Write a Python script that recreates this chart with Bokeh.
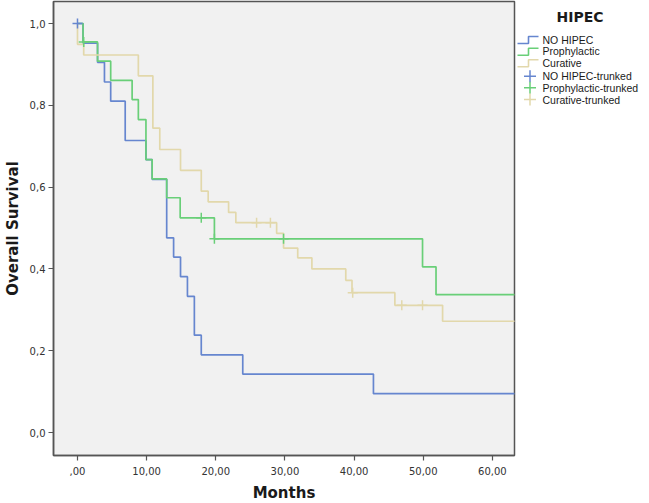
from bokeh.plotting import figure
from bokeh.models import Range1d, FixedTicker
from bokeh.layouts import row
from bokeh.embed import file_html
from bokeh.resources import INLINE
from bokeh.core.properties import value

# ---------------- data ----------------
nohipec_t = [0, 0.8, 2.9, 3.9, 4.8, 6.9, 9.9, 10.8, 12.9, 13.9, 14.9, 15.9, 16.9, 17.9, 23.9, 42.8, 64]
nohipec_s = [1.0, 0.952, 0.905, 0.857, 0.810, 0.714, 0.667, 0.619, 0.476, 0.429, 0.381, 0.333, 0.238, 0.190, 0.143, 0.095, 0.095]
nohipec_cens_t = [0.0]
nohipec_cens_s = [1.0]

proph_t = [0, 0.8, 2.9, 4.8, 7.9, 8.8, 9.9, 10.8, 12.9, 14.85, 19.8, 49.9, 51.85, 64]
proph_s = [1.0, 0.955, 0.908, 0.861, 0.814, 0.765, 0.667, 0.620, 0.574, 0.525, 0.4735, 0.405, 0.337, 0.337]
proph_cens_t = [0.9, 17.9, 19.8, 29.8]
proph_cens_s = [0.955, 0.525, 0.4735, 0.4735]

cur_t = [0, 0, 0.9, 8.8, 10.9, 11.9, 14.9, 17.9, 18.9, 21.85, 22.9, 28.8, 29.8, 31.85, 33.9, 38.8, 39.7, 45.9, 52.8, 64]
cur_s = [1.0, 0.949, 0.923, 0.872, 0.744, 0.692, 0.641, 0.590, 0.564, 0.538, 0.513, 0.487, 0.451, 0.427, 0.400, 0.372, 0.342, 0.311, 0.272, 0.272]
cur_cens_t = [25.9, 27.9, 39.8, 46.9, 49.9]
cur_cens_s = [0.513, 0.513, 0.342, 0.311, 0.311]

x_ticks = [0, 10, 20, 30, 40, 50, 60]
x_tick_labels = [",00", "10,00", "20,00", "30,00", "40,00", "50,00", "60,00"]
y_ticks = [0.0, 0.2, 0.4, 0.6, 0.8, 1.0]
y_tick_labels = ["0,0", "0,2", "0,4", "0,6", "0,8", "1,0"]

legend_title = "HIPEC"
legend_labels = ["NO HIPEC", "Prophylactic", "Curative",
                 "NO HIPEC-trunked", "Prophylactic-trunked", "Curative-trunked"]

BLUE = "#6686cf"
GREEN = "#69cf78"
TAN = "#e2d8ab"
FRAME = "#555555"

FRAME_H = 454
TOP = 1

# ---------------- main plot ----------------
p = figure(frame_width=461, frame_height=FRAME_H, output_backend="svg", toolbar_location=None,
           x_range=Range1d(-3.47, 63.2), y_range=Range1d(-0.0562, 1.0538),
           min_border_left=47, min_border_top=TOP, min_border_right=2, min_border_bottom=0)
p.background_fill_color = "#f1f1f1"
p.border_fill_color = "white"
p.outline_line_color = FRAME
p.outline_line_width = 1.5
p.grid.visible = False

for t, s, c in [(nohipec_t, nohipec_s, BLUE), (proph_t, proph_s, GREEN), (cur_t, cur_s, TAN)]:
    p.step(t, s, mode="after", line_color=c, line_width=1.7)

for t, s, c in [(nohipec_cens_t, nohipec_cens_s, BLUE), (proph_cens_t, proph_cens_s, GREEN), (cur_cens_t, cur_cens_s, TAN)]:
    p.scatter(t, s, marker="cross", size=10, line_color=c, line_width=1.5)

p.xaxis.ticker = FixedTicker(ticks=x_ticks)
p.xaxis.major_label_overrides = dict(zip(x_ticks, x_tick_labels))
p.yaxis.ticker = FixedTicker(ticks=y_ticks)
p.yaxis.major_label_overrides = dict(zip(y_ticks, y_tick_labels))

for ax in (p.xaxis, p.yaxis):
    ax.minor_tick_line_color = None
    ax.major_tick_in = 0
    ax.major_tick_out = 5
    ax.major_tick_line_color = FRAME
    ax.major_tick_line_width = 1.2
    ax.axis_line_color = FRAME
    ax.axis_line_width = 1.5
    ax.major_label_text_font = "DejaVu Sans"
    ax.major_label_text_font_size = "10px"
    ax.major_label_text_color = "#333333"
    ax.axis_label_text_font = "DejaVu Sans"
    ax.axis_label_text_font_style = "bold"
    ax.axis_label_text_font_size = "15px"
    ax.axis_label_text_color = "#1a1a1a"

p.xaxis.axis_label = "Months"
p.yaxis.axis_label = "Overall Survival"
p.xaxis.major_tick_out = 5
p.xaxis.major_label_standoff = 6
p.xaxis.axis_label_standoff = 6
p.yaxis.major_label_standoff = 3
p.yaxis.axis_label_standoff = 5

# ---------------- legend panel (data units = pixels from top) ----------------
L = figure(frame_width=123, frame_height=FRAME_H, output_backend="svg", toolbar_location=None,
           x_range=Range1d(0, 123), y_range=Range1d(TOP + FRAME_H, TOP),
           x_axis_location=None, y_axis_location=None,
           min_border_left=0, min_border_right=0, min_border_top=TOP, min_border_bottom=44)
L.grid.visible = False
L.outline_line_color = None
L.background_fill_color = "white"
L.border_fill_color = "white"

row_y = [39, 50.7, 62.3, 75.7, 87.3, 99]
colors = [BLUE, GREEN, TAN, BLUE, GREEN, TAN]

L.text(x=[63.5], y=[16], text=[legend_title], text_font=value("DejaVu Sans"),
       text_font_style="bold", text_font_size="14px", text_align="center",
       text_baseline="middle", text_color="#1a1a1a")

for i in range(3):
    yy = row_y[i]
    L.line(x=[1, 12, 12, 22], y=[yy + 4, yy + 4, yy - 3, yy - 3], line_color=colors[i], line_width=1.6)
for i in range(3, 6):
    L.scatter(x=[13.5], y=[row_y[i]], marker="cross", size=12, line_color=colors[i], line_width=1.5)

L.text(x=[26] * 6, y=row_y, text=legend_labels, text_font=value("Liberation Sans"),
       text_font_size="10.5px", text_baseline="middle", text_align="left", text_color="#1a1a1a")

layout = row(p, L, spacing=0)
open("out.html", "w").write(file_html(layout, INLINE))
